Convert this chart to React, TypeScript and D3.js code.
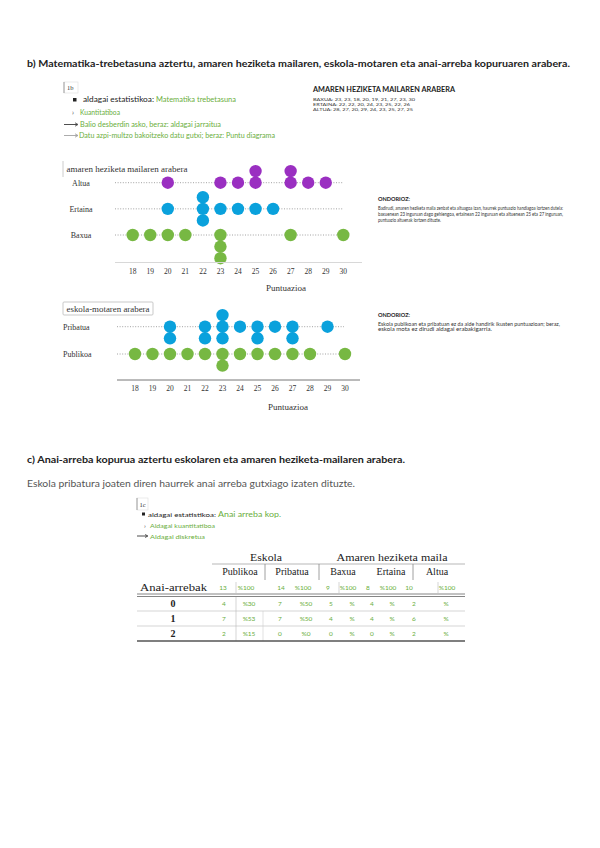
import React from "react";
import * as d3 from "d3";

// x axis of both dot plots
const scoreTicks = [18, 19, 20, 21, 22, 23, 24, 25, 26, 27, 28, 29, 30];

// chart 1: mother's education level
const levels = ["Altua", "Ertaina", "Baxua"];
const baxuaScores = [23, 23, 18, 20, 19, 21, 27, 23, 30];
const ertainaScores = [22, 22, 20, 24, 23, 25, 22, 26];
const altuaScores = [28, 27, 20, 29, 24, 23, 25, 27, 25];

// chart 2: school type
const schools = ["Pribatua", "Publikoa"];
const pribatuaScores = [20, 20, 22, 22, 23, 23, 23, 24, 25, 25, 26, 27, 27, 29];
const publikoaScores = [18, 19, 20, 21, 22, 23, 23, 24, 25, 26, 27, 28, 30];

// table c)
const siblingRows = ["0", "1", "2"];
const groupHeaders = ["Publikoa", "Pribatua", "Baxua", "Ertaina", "Altua"];
const groupTotals = [13, 14, 9, 8, 10];
const publikoaCounts = [4, 7, 2];
const publikoaPct = ["%30", "%53", "%15"];
const pribatuaCounts = [7, 7, 0];
const pribatuaPct = ["%50", "%50", "%0"];
const baxuaCounts = [5, 4, 0];
const ertainaCounts = [4, 4, 0];
const altuaCounts = [2, 6, 2];

const PURPLE = "#9a2fc1";
const BLUE = "#0aa1dc";
const GREEN = "#77b843";
const TXTGREEN = "#6aae3c";
const SANS = "Lato, 'Open Sans', sans-serif";
const SERIF = "'Liberation Serif', 'DejaVu Serif', serif";

type Stack = "up" | "down" | "center";

function stackDots(scores: number[], mode: Stack) {
  const counts = d3.rollup(scores, (v) => v.length, (d) => d);
  const out: { v: number; k: number }[] = [];
  for (const [v, n] of counts) {
    for (let i = 0; i < n; i++) {
      const k = mode === "up" ? -i : mode === "down" ? i : i - Math.floor((n - 1) / 2);
      out.push({ v, k });
    }
  }
  return out;
}

const T = ({ x, y, w, size = 7, fill = "#222", weight = "normal", family = SANS, anchor = "start", children }: any) => (
  <text
    x={x}
    y={y}
    fontSize={size}
    fill={fill}
    fontWeight={weight}
    fontFamily={family}
    textAnchor={anchor}
    textLength={w}
    lengthAdjust={w ? "spacingAndGlyphs" : undefined}
  >
    {children}
  </text>
);

const DotPlot = ({ rows, series, x0, x1, y0, y1, lineFrom, lineTo, axisY, axisTo, axisColor, labelX, labelAnchor, titleY }: any) => {
  const x = d3.scaleLinear().domain([18, 30]).range([x0, x1]);
  const y = d3.scalePoint().domain(rows).range([y0, y1]);
  const step = 11.6;
  return (
    <g>
      {rows.map((r: string) => (
        <g key={r}>
          <line x1={lineFrom} x2={lineTo} y1={y(r)} y2={y(r)} stroke="#8a8a8a" strokeWidth={0.8} strokeDasharray="1 1.6" />
          <T x={labelX} y={(y(r) as number) + 3} size={8} family={SERIF} fill="#333" anchor={labelAnchor}>
            {r}
          </T>
        </g>
      ))}
      {rows.map((r: string) =>
        stackDots(series[r].values, series[r].stack).map((d, i) => (
          <circle key={r + i} cx={x(d.v)} cy={(y(r) as number) + d.k * step} r={6.2} fill={series[r].color} />
        ))
      )}
      <line x1={lineFrom} x2={axisTo} y1={axisY} y2={axisY} stroke={axisColor} strokeWidth={1} />
      {scoreTicks.map((t) => (
        <T key={t} x={x(t)} y={axisY + 11} size={7.5} family={SERIF} fill="#333" anchor="middle">
          {t}
        </T>
      ))}
      <T x={x(25.6)} y={titleY} size={8} family={SERIF} fill="#333" w={40}>
        Puntuazioa
      </T>
    </g>
  );
};

export default function App() {
  const dataLine = (name: string, vals: number[]) => `${name}: ${vals.join(", ")}`;
  const tableCols = [
    { counts: publikoaCounts, pct: publikoaPct },
    { counts: pribatuaCounts, pct: pribatuaPct },
    { counts: baxuaCounts, pct: ["%", "%", "%"] },
    { counts: ertainaCounts, pct: ["%", "%", "%"] },
    { counts: altuaCounts, pct: ["%", "%", "%"] },
  ];
  const headCx = [240, 292, 343, 391, 437];
  const totCx = [223, 246, 281, 303, 328, 348, 368, 388, 409, 447];
  const rowCx = [224, 249, 280, 306, 331, 352, 372, 392, 414, 446];
  const rowY = d3.scalePoint().domain(siblingRows).range([606, 636]);

  return (
    <svg width={600} height={848} style={{ position: "absolute", left: 0, top: 0, background: "#fff" }}>
      <rect width={600} height={848} fill="#fff" />
      <T x={27} y={67} w={543} size={9.5} weight="bold">
        b) Matematika-trebetasuna aztertu, amaren heziketa mailaren, eskola-motaren eta anai-arreba kopuruaren arabera.
      </T>

      {/* 1b notes */}
      <rect x={64} y={82} width={14} height={11} fill="none" stroke="#ddd" strokeWidth={0.6} />
      <line x1={64} x2={64} y1={82} y2={93} stroke="#888" strokeWidth={0.8} />
      <T x={67} y={90} size={6.5} family={SERIF} fill="#333">1b</T>
      <rect x={73} y={98} width={3.5} height={3.5} fill="#222" />
      <T x={83} y={102} w={71} size={7}>aldagai estatistikoa:</T>
      <T x={156} y={102} w={80} size={7} fill={TXTGREEN}>Matematika trebetasuna</T>
      <T x={72} y={115} size={7} fill="#444">›</T>
      <T x={80} y={115} w={40} size={7} fill={TXTGREEN}>Kuantitatiboa</T>
      <line x1={64} x2={77} y1={124.5} y2={124.5} stroke="#222" strokeWidth={0.8} />
      <path d="M75,122.8 L78,124.5 L75,126.2" fill="none" stroke="#222" strokeWidth={0.7} />
      <T x={80} y={127} w={141} size={7} fill={TXTGREEN}>Balio desberdin asko, beraz: aldagai jarraitua</T>
      <line x1={64} x2={77} y1={135.5} y2={135.5} stroke="#888" strokeWidth={0.7} />
      <path d="M75,133.8 L78,135.5 L75,137.2" fill="none" stroke="#888" strokeWidth={0.7} />
      <T x={79} y={138} w={196} size={7} fill={TXTGREEN}>Datu azpi-multzo bakoitzeko datu gutxi; beraz: Puntu diagrama</T>

      {/* raw data note */}
      <T x={313} y={92} w={142} size={7} weight="bold">AMAREN HEZIKETA MAILAREN ARABERA</T>
      <T x={313} y={101} w={102} size={4.6} fill="#333">{dataLine("BAXUA", baxuaScores)}</T>
      <T x={313} y={106} w={97} size={4.6} fill="#333">{dataLine("ERTAINA", ertainaScores)}</T>
      <T x={313} y={111} w={100} size={4.6} fill="#333">{dataLine("ALTUA", altuaScores)}</T>

      {/* chart 1 */}
      <line x1={63} x2={63} y1={161} y2={177} stroke="#ccc" strokeWidth={1} />
      <T x={66.5} y={171.5} w={121} size={7.5} family={SERIF} fill="#333">amaren heziketa mailaren arabera</T>
      <DotPlot
        rows={levels}
        series={{
          Altua: { values: altuaScores, color: PURPLE, stack: "up" },
          Ertaina: { values: ertainaScores, color: BLUE, stack: "center" },
          Baxua: { values: baxuaScores, color: GREEN, stack: "down" },
        }}
        x0={132.7}
        x1={343.3}
        y0={182.7}
        y1={235}
        lineFrom={115}
        lineTo={343}
        axisY={262.5}
        axisTo={362}
        axisColor="#d8d8d8"
        labelX={81}
        labelAnchor="middle"
        titleY={291}
      />
      <T x={378} y={201} w={32} size={5.5} weight="bold">ONDORIOZ:</T>
      <T x={378} y={210} w={185} size={5} fill="#333">
        Badirudi, amaren heziketa maila zenbat eta altuagoa izan, haurrek puntuazio handiagoa lortzen dutela:
      </T>
      <T x={378} y={215.8} w={185} size={5} fill="#333">
        baxuenean 23 inguruan dago gehiengoa, ertainean 22 inguruan eta altuenean 25 eta 27 inguruan,
      </T>
      <T x={378} y={221.5} w={63} size={5} fill="#333">puntuazio altuenak lortzen dituzte.</T>

      {/* chart 2 */}
      <rect x={63} y={302} width={90} height={13} fill="none" stroke="#bbb" strokeWidth={0.8} rx={1} />
      <T x={66.5} y={311.5} w={83} size={7.5} family={SERIF} fill="#333">eskola-motaren arabera</T>
      <DotPlot
        rows={schools}
        series={{
          Pribatua: { values: pribatuaScores, color: BLUE, stack: "center" },
          Publikoa: { values: publikoaScores, color: GREEN, stack: "down" },
        }}
        x0={135}
        x1={345}
        y0={326.7}
        y1={354}
        lineFrom={117}
        lineTo={344}
        axisY={380}
        axisTo={360}
        axisColor="#777"
        labelX={63}
        labelAnchor="start"
        titleY={410}
      />
      <T x={378} y={316.5} w={32} size={5.5} weight="bold">ONDORIOZ:</T>
      <T x={378} y={325.5} w={182} size={5} fill="#333">
        Eskola publikoan eta pribatuan ez da alde handirik ikusten puntuazioan; beraz,
      </T>
      <T x={378} y={331.3} w={114} size={5} fill="#333">eskola mota ez dirudi aldagai erabakigarria.</T>

      {/* section c */}
      <T x={27} y={463} w={378} size={9} weight="bold">
        c) Anai-arreba kopurua aztertu eskolaren eta amaren heziketa-mailaren arabera.
      </T>
      <T x={27} y={487} w={328} size={8.5} fill="#555">
        Eskola pribatura joaten diren haurrek anai arreba gutxiago izaten dituzte.
      </T>

      <rect x={137} y={498} width={11} height={12} fill="none" stroke="#ddd" strokeWidth={0.6} />
      <line x1={137} x2={137} y1={498} y2={510} stroke="#888" strokeWidth={0.8} />
      <T x={139.5} y={506.5} size={6.5} family={SERIF} fill="#333">1c</T>
      <rect x={142} y={512.5} width={3} height={3} fill="#222" />
      <T x={148} y={516.5} w={68} size={6}>aldagai estatistikoa:</T>
      <T x={218} y={517} w={63} size={8} fill={TXTGREEN}>Anai arreba kop.</T>
      <T x={144} y={528} size={6.5} fill="#444">›</T>
      <T x={150} y={528} w={65} size={6.5} fill={TXTGREEN}>Aldagai kuantitatiboa</T>
      <line x1={137} x2={147} y1={536} y2={536} stroke="#222" strokeWidth={0.8} />
      <path d="M145,534.5 L148,536 L145,537.5" fill="none" stroke="#222" strokeWidth={0.7} />
      <T x={150} y={538.5} w={55} size={6.5} fill={TXTGREEN}>Aldagai diskretua</T>

      {/* table */}
      <T x={266} y={561} size={10} family={SERIF} anchor="middle" w={32}>Eskola</T>
      <T x={392} y={561} size={10} family={SERIF} anchor="middle" w={111}>Amaren heziketa maila</T>
      <line x1={212} x2={465} y1={564} y2={564} stroke="#999" strokeWidth={0.7} />
      {[265, 319, 413].map((vx) => (
        <line key={vx} x1={vx} x2={vx} y1={564} y2={580} stroke="#888" strokeWidth={0.8} />
      ))}
      {groupHeaders.map((h, i) => (
        <T key={h} x={headCx[i]} y={575} size={10} family={SERIF} anchor="middle">{h}</T>
      ))}
      <T x={140} y={591} w={67} size={10} family={SERIF}>Anai-arrebak</T>
      {groupTotals.map((n, i) => (
        <g key={i}>
          <T x={totCx[i * 2]} y={590} size={6.5} fill={TXTGREEN} anchor="middle">{n}</T>
          <T x={totCx[i * 2 + 1]} y={590} size={6.5} fill={TXTGREEN} anchor="middle">%100</T>
        </g>
      ))}
      {[236, 339, 438].map((vx) => (
        <line key={vx} x1={vx} x2={vx} y1={582} y2={593} stroke="#bbb" strokeWidth={0.6} />
      ))}
      <line x1={137} x2={465} y1={594} y2={594} stroke="#666" strokeWidth={0.8} />
      <line x1={137} x2={465} y1={596.5} y2={596.5} stroke="#666" strokeWidth={0.8} />
      {siblingRows.map((r, ri) => (
        <g key={r}>
          <T x={173} y={(rowY(r) as number) + 0.5} size={10} family={SERIF} weight="bold" anchor="middle">{r}</T>
          {tableCols.map((c, ci) => (
            <g key={ci}>
              <T x={rowCx[ci * 2]} y={rowY(r)} size={6.5} fill={TXTGREEN} anchor="middle">{c.counts[ri]}</T>
              <T x={rowCx[ci * 2 + 1]} y={rowY(r)} size={6.5} fill={TXTGREEN} anchor="middle">{c.pct[ri]}</T>
            </g>
          ))}
        </g>
      ))}
      <line x1={137} x2={465} y1={611} y2={611} stroke="#bbb" strokeWidth={0.6} />
      <line x1={137} x2={465} y1={626} y2={626} stroke="#bbb" strokeWidth={0.6} />
      <line x1={236} x2={236} y1={597} y2={641} stroke="#bbb" strokeWidth={0.6} />
      <line x1={263} x2={263} y1={611} y2={641} stroke="#ccc" strokeWidth={0.6} />
      <line x1={137} x2={465} y1={641} y2={641} stroke="#555" strokeWidth={1.4} />
    </svg>
  );
}
